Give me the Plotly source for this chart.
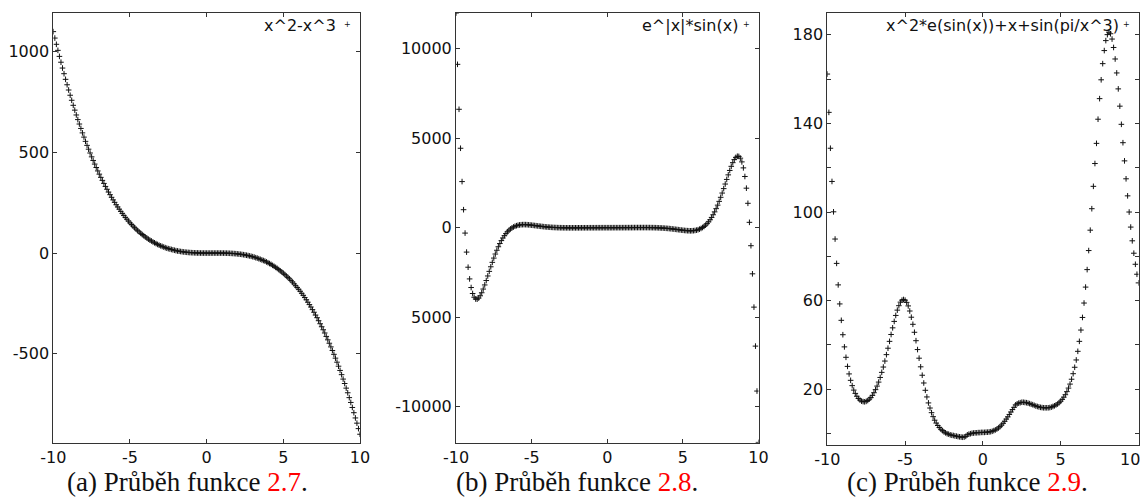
import plotly.graph_objects as go

# Sample grid: x from -10 to 10 in steps of 0.1 (201 samples)
X_START = -10
X_STEP = 0.1

LEGEND_A = "x^2-x^3"
LEGEND_B = "e^|x|*sin(x)"
LEGEND_C = "x^2*e(sin(x))+x+sin(pi/x^3)"

CAPTIONS = [("(a) Průběh funkce ", "2.7"), ("(b) Průběh funkce ", "2.8"), ("(c) Průběh funkce ", "2.9")]

Y_A = [
    1100, 1068, 1037, 1007, 977, 948, 919, 891, 863, 836,
    810, 784, 759, 734, 710, 686, 663, 641, 619, 597,
    576, 555, 535, 516, 497, 478, 460, 442, 425, 408,
    392, 376, 361, 346, 331, 317, 303, 290, 277, 264,
    252, 240, 229, 218, 207, 197, 187, 177, 168, 159,
    150, 142, 134, 126, 119, 111, 105, 98, 92, 86,
    80, 75, 69, 64, 60, 55, 51, 47, 43, 39,
    36, 33, 30, 27, 24, 22, 20, 18, 16, 14,
    12, 10.5, 9.1, 7.8, 6.7, 5.6, 4.7, 3.9, 3.2, 2.5,
    2.0, 1.5, 1.2, 0.8, 0.6, 0.4, 0.2, 0.1, 0.05, 0.01,
    0,
    0, 0, 0.1, 0.1, 0.1, 0.1, 0.1, 0.1, 0.1, 0,
    -0.1, -0.3, -0.5, -0.8, -1.1, -1.5, -2.0, -2.6, -3.2, -4,
    -4.9, -5.8, -6.9, -8.1, -9.4, -10.8, -12.4, -14.1, -16.0, -18,
    -20, -23, -25, -28, -31, -34, -37, -40, -44, -48,
    -52, -56, -61, -66, -71, -76, -82, -88, -94, -100,
    -107, -114, -121, -128, -136, -144, -153, -162, -171, -180,
    -190, -200, -210, -221, -232, -244, -256, -268, -281, -294,
    -308, -321, -336, -351, -366, -381, -397, -414, -431, -448,
    -466, -484, -503, -522, -542, -562, -583, -604, -626, -648,
    -671, -694, -718, -742, -767, -793, -819, -845, -872, -900,
]

Y_B = [
    11983, 9118, 6609, 4434, 2574, 1005, -300, -1362, -2206, -2858,
    -3339, -3673, -3880, -3980, -3989, -3925, -3801, -3630, -3425, -3195,
    -2949, -2694, -2437, -2182, -1934, -1696, -1470, -1259, -1063, -884,
    -721, -574, -444, -329, -229, -143, -70, -9, 41, 81,
    113, 137, 154, 165, 171, 173, 171, 167, 160, 152,
    142, 132, 121, 110, 99, 88, 78, 68, 58, 49,
    41, 34, 27, 21, 16, 12, 8, 4, 1, -1,
    -3, -4, -6, -6, -7, -7, -7, -7, -7, -7,
    -7, -6, -6, -5, -5, -4, -4, -4, -3, -3,
    -2, -2, -2, -1, -1, -1, -1, 0, 0, 0,
    0,
    0, 0, 0, 1, 1, 1, 1, 2, 2, 2,
    3, 3, 4, 4, 4, 5, 5, 6, 6, 7,
    7, 7, 7, 7, 7, 7, 6, 6, 4, 3,
    1, -1, -4, -8, -12, -16, -21, -27, -34, -41,
    -49, -58, -68, -78, -88, -99, -110, -121, -132, -142,
    -152, -160, -167, -171, -173, -171, -165, -154, -137, -113,
    -81, -41, 9, 70, 143, 229, 329, 444, 574, 721,
    884, 1063, 1259, 1470, 1696, 1934, 2182, 2437, 2694, 2949,
    3195, 3425, 3630, 3801, 3925, 3989, 3980, 3880, 3673, 3339,
    2858, 2206, 1362, 300, -1005, -2574, -4434, -6609, -9118, -11983,
]

Y_C = [
    162.3, 145.0, 128.8, 113.8, 100.1, 87.8, 76.8, 67.1, 58.5, 51.1,
    44.6, 39.1, 34.4, 30.3, 26.9, 24.0, 21.6, 19.6, 18.1, 16.8,
    15.8, 15.1, 14.6, 14.4, 14.3, 14.5, 14.9, 15.5, 16.2, 17.2,
    18.4, 19.8, 21.4, 23.2, 25.3, 27.6, 30.0, 32.7, 35.6, 38.5,
    41.6, 44.7, 47.7, 50.6, 53.3, 55.7, 57.7, 59.3, 60.2, 60.5,
    60.2, 59.2, 57.6, 55.3, 52.5, 49.3, 45.7, 41.9, 37.9, 34.0,
    30.1, 26.3, 22.8, 19.5, 16.5, 13.8, 11.5, 9.4, 7.6, 6.0,
    4.7, 3.6, 2.7, 1.9, 1.3, 0.7, 0.3, -0.1, -0.3, -0.6,
    -0.8, -0.9, -1.1, -1.2, -1.4, -1.5, -1.6, -1.7, -1.6, -1.3,
    -0.6, -0.3, -0.1, 0.1, 0.2, 0.3, 0.3, 0.4, 0.4, 0.5,
    0.5,
    0.5, 0.6, 0.6, 0.7, 0.8, 1.0, 1.3, 1.6, 2.0, 2.5,
    3.1, 3.8, 4.6, 5.5, 6.5, 7.5, 8.6, 9.7, 10.8, 11.8,
    12.9, 13.4, 13.7, 13.9, 14.1, 14.1, 14.0, 13.9, 13.7, 13.5,
    13.2, 13.0, 12.7, 12.4, 12.2, 12.0, 11.8, 11.7, 11.6, 11.6,
    11.6, 11.6, 11.7, 11.9, 12.2, 12.5, 12.9, 13.3, 13.9, 14.6,
    15.4, 16.4, 17.5, 18.9, 20.5, 22.3, 24.5, 27.0, 29.9, 33.2,
    37.1, 41.6, 46.7, 52.4, 58.9, 66.1, 74.0, 82.6, 91.8, 101.5,
    111.6, 121.9, 131.0, 141.9, 151.2, 159.7, 167.0, 172.9, 177.4, 180.1,
    181.2, 180.5, 178.1, 174.3, 169.1, 162.8, 155.6, 147.8, 139.6, 131.3,
    123.1, 115.0, 107.3, 100.0, 93.2, 87.0, 81.4, 76.4, 71.9, 68.0,
]

X_TICKS = [-10, -5, 0, 5, 10]
X_TEXT = ["-10", "-5", "0", "5", "10"]
# last label of panel (c) sits against the page edge; drawn separately, right-aligned
X_TEXT_C = ["-10", "-5", "0", "5", ""]
X_EDGE_LABEL_C = "10"
YA_TICKS = [-500, 0, 500, 1000]
YA_TEXT = ["-500", "0", "500", "1000"]
YB_TICKS = [-10000, -5000, 0, 5000, 10000]
YB_TEXT = ["-10000", "5000", "0", "5000", "10000"]
YC_TICKS = [0, 20, 40, 60, 80, 100, 120, 140, 160, 180]
YC_TEXT = ["", "20", "", "60", "", "100", "", "140", "", "180"]

W, H = 1144, 500

def px_x(p):
    return p / W

def px_y(p):
    return 1 - p / H

fig = go.Figure()

marker = dict(symbol="cross-thin", size=4, color="#111", line=dict(width=1, color="#111"))

for i, ys in enumerate([Y_A, Y_B, Y_C]):
    suffix = "" if i == 0 else str(i + 1)
    fig.add_trace(go.Scatter(
        y=ys, x0=X_START, dx=X_STEP, mode="markers", marker=marker,
        xaxis="x" + suffix, yaxis="y" + suffix, showlegend=False, hoverinfo="skip",
    ))

tick_font = dict(family="DejaVu Sans", size=16, color="#111")
axis_common = dict(
    showline=True, linecolor="#333", linewidth=1, mirror="ticks",
    ticks="inside", ticklen=4, tickcolor="#333", tickwidth=1,
    showgrid=False, zeroline=False, automargin=False,
    tickfont=tick_font,
)

domains = [
    ((53.3, 360.0), (12.7, 442.7)),
    ((456.0, 758.5), (12.7, 442.7)),
    ((827.3, 1138.5), (12.7, 445.0)),
]
y_ranges = [[-942, 1194], [-12000, 12000], [-5.2, 190]]
y_ticks = [(YA_TICKS, YA_TEXT), (YB_TICKS, YB_TEXT), (YC_TICKS, YC_TEXT)]
x_texts = [X_TEXT, X_TEXT, X_TEXT_C]

layout = {}
for i in range(3):
    suffix = "" if i == 0 else str(i + 1)
    (x0, x1), (yt, yb) = domains[i]
    layout["xaxis" + suffix] = dict(
        axis_common, domain=[px_x(x0), px_x(x1)], range=[-10, 10],
        tickvals=X_TICKS, ticktext=x_texts[i],
        anchor="y" + suffix,
    )
    layout["yaxis" + suffix] = dict(
        axis_common, domain=[px_y(yb), px_y(yt)], range=y_ranges[i],
        tickvals=y_ticks[i][0], ticktext=y_ticks[i][1],
        anchor="x" + suffix,
    )

annotations = []
legend_pos = [(LEGEND_A, 338, 347), (LEGEND_B, 740, 746), (LEGEND_C, 1121, 1126)]
for text, xr, xm in legend_pos:
    annotations.append(dict(
        text=text, xref="paper", yref="paper", x=px_x(xr), y=px_y(25),
        xanchor="right", yanchor="middle", showarrow=False,
        font=dict(family="DejaVu Sans", size=16, color="#111"),
    ))
    annotations.append(dict(
        text="+", xref="paper", yref="paper", x=px_x(xm), y=px_y(24),
        xanchor="center", yanchor="middle", showarrow=False,
        font=dict(family="DejaVu Sans", size=8, color="#111"),
    ))

annotations.append(dict(
    text=X_EDGE_LABEL_C, xref="paper", yref="paper", x=px_x(1142), y=px_y(459),
    xanchor="right", yanchor="middle", showarrow=False, font=tick_font,
))

caption_x = [187.5, 577, 967]
for (prefix, ref), cx in zip(CAPTIONS, caption_x):
    annotations.append(dict(
        text=prefix + "<span style='color:#ff0000'>" + ref + "</span>.",
        xref="paper", yref="paper", x=px_x(cx), y=px_y(482),
        xanchor="center", yanchor="middle", showarrow=False,
        font=dict(family="Liberation Serif", size=27, color="#111"),
    ))

fig.update_layout(
    template="none",
    width=W, height=H, margin=dict(l=0, r=0, t=0, b=0),
    paper_bgcolor="white", plot_bgcolor="white",
    annotations=annotations, **layout,
)

fig.write_html("out.html")
